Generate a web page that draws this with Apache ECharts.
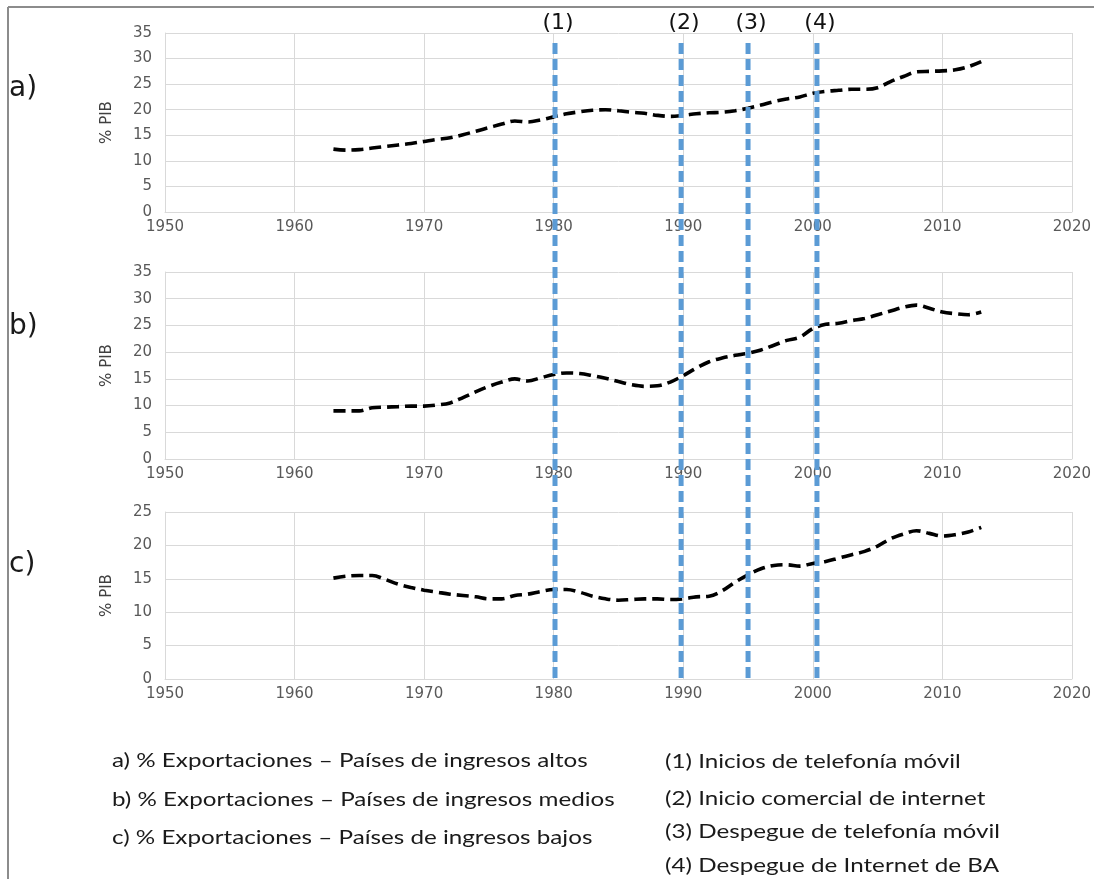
<!DOCTYPE html>
<html>
<head>
<meta charset="utf-8">
<title>% Exportaciones / % PIB</title>
<script src="https://cdn.jsdelivr.net/npm/echarts@6/dist/echarts.min.js"></script>
<style>
  html, body { margin: 0; padding: 0; background: #ffffff; }
  #chart { width: 1094px; height: 879px; }
</style>
</head>
<body>
<div id="chart"></div>
<script>
// Years covered by the three export series
const years = [1963, 1964, 1965, 1966, 1967, 1968, 1969, 1970, 1971, 1972,
  1973, 1974, 1975, 1976, 1977, 1978, 1979, 1980, 1981, 1982,
  1983, 1984, 1985, 1986, 1987, 1988, 1989, 1990, 1991, 1992,
  1993, 1994, 1995, 1996, 1997, 1998, 1999, 2000, 2001, 2002,
  2003, 2004, 2005, 2006, 2007, 2008, 2009, 2010, 2011, 2012, 2013];

// a) Exports, % of GDP – high-income countries
const exportsHigh = [12.3, 12.1, 12.2, 12.5, 12.8, 13.1, 13.4, 13.8, 14.2, 14.5,
  15.1, 15.8, 16.5, 17.2, 17.8, 17.6, 18.0, 18.6, 19.2, 19.6,
  19.9, 20.0, 19.8, 19.5, 19.3, 18.9, 18.7, 18.9, 19.2, 19.4,
  19.5, 19.8, 20.3, 20.9, 21.6, 22.1, 22.5, 23.2, 23.6, 23.8,
  24.0, 24.0, 24.3, 25.5, 26.5, 27.4, 27.5, 27.6, 27.8, 28.4, 29.4];

// b) Exports, % of GDP – middle-income countries
const exportsMiddle = [9.0, 9.0, 9.0, 9.6, 9.7, 9.8, 9.9, 9.9, 10.1, 10.5,
  11.5, 12.6, 13.6, 14.4, 15.0, 14.6, 15.2, 15.8, 16.1, 16.0,
  15.6, 15.1, 14.5, 13.9, 13.6, 13.7, 14.4, 15.6, 17.0, 18.2,
  18.9, 19.4, 19.8, 20.4, 21.3, 22.2, 22.8, 24.4, 25.2, 25.4,
  25.9, 26.3, 27.0, 27.7, 28.4, 28.8, 28.2, 27.5, 27.2, 27.0, 27.5];

// c) Exports, % of GDP – low-income countries
const exportsLow = [15.1, 15.4, 15.5, 15.5, 14.9, 14.2, 13.7, 13.3, 13.0, 12.7,
  12.5, 12.3, 12.0, 12.0, 12.5, 12.7, 13.1, 13.4, 13.4, 13.0,
  12.4, 12.0, 11.8, 11.9, 12.0, 12.0, 11.9, 12.0, 12.3, 12.4,
  13.2, 14.5, 15.6, 16.5, 17.0, 17.1, 16.9, 17.3, 17.6, 18.1,
  18.6, 19.1, 19.9, 21.0, 21.7, 22.2, 21.8, 21.4, 21.6, 22.0, 22.7];

// Technology milestones marked across all panels
const milestoneYears = [1980, 1989.7, 1994.85, 2000.15];
const milestoneLabels = ['(1)', '(2)', '(3)', '(4)'];

const panelLabels = ['a)', 'b)', 'c)'];
const panelMax = [35, 35, 25];
const axisName = '% PIB';

const legendLeft = [
  'a) % Exportaciones – Países de ingresos altos',
  'b) % Exportaciones – Países de ingresos medios',
  'c) % Exportaciones – Países de ingresos bajos'
];
const legendRight = [
  '(1) Inicios de telefonía móvil',
  '(2) Inicio comercial de internet',
  '(3) Despegue de telefonía móvil',
  '(4) Despegue de Internet de BA'
];

const seriesData = [exportsHigh, exportsMiddle, exportsLow];

// ---- layout ----
const plotLeft = 165, plotRight = 19;
const panelBoxes = [
  { top: 33, height: 179 },
  { top: 272, height: 187 },
  { top: 512, height: 167 }
];
const overlayBox = { top: 43, height: 635 };
const panelLabelY = [92, 330, 568];
const legendLeftY = [761, 800, 838];
const legendRightY = [762, 799, 832, 866];
const legendScaleX = 1.21;

const tickFont = { color: '#595959', fontSize: 15, fontFamily: 'DejaVu Sans' };
const gridColor = '#d9d9d9';

const grid = panelBoxes.map(b => ({ left: plotLeft, right: plotRight, top: b.top, height: b.height }))
  .concat([{ left: plotLeft, right: plotRight, top: overlayBox.top, height: overlayBox.height }]);

const xAxis = panelBoxes.map((b, i) => ({
  type: 'value', gridIndex: i, min: 1950, max: 2020, interval: 10,
  axisLine: { show: true, lineStyle: { color: gridColor, width: 1 } },
  axisTick: { show: false },
  axisLabel: Object.assign({ margin: 8, formatter: v => String(v) }, tickFont),
  splitLine: { show: true, lineStyle: { color: gridColor, width: 1 } }
})).concat([{ type: 'value', gridIndex: 3, min: 1950, max: 2020, show: false }]);

const yAxis = panelBoxes.map((b, i) => ({
  type: 'value', gridIndex: i, min: 0, max: panelMax[i], interval: 5,
  name: axisName, nameLocation: 'middle', nameGap: 50, nameRotate: 90,
  nameTextStyle: { color: '#404040', fontSize: 15, fontFamily: 'DejaVu Sans' },
  axisLine: { show: true, lineStyle: { color: gridColor, width: 1 } },
  axisTick: { show: false },
  axisLabel: Object.assign({ margin: 13 }, tickFont),
  splitLine: { show: true, lineStyle: { color: gridColor, width: 1 } }
})).concat([{ type: 'value', gridIndex: 3, min: 0, max: 1, show: false }]);

const series = seriesData.map((arr, i) => ({
  type: 'line', xAxisIndex: i, yAxisIndex: i,
  data: years.map((y, k) => [y, arr[k]]),
  smooth: 0.35, symbol: 'none', z: 3,
  lineStyle: { color: '#000000', width: 3.6, type: [12, 6] }
}));

milestoneYears.forEach((yr, i) => {
  series.push({
    type: 'line', xAxisIndex: 3, yAxisIndex: 3, z: 5,
    symbol: 'circle', symbolSize: 1,
    itemStyle: { color: 'rgba(0,0,0,0)' },
    lineStyle: { color: '#5b9bd5', width: 5, type: [11, 5] },
    data: [
      [yr, 0],
      { value: [yr, 1], label: {
          show: true, formatter: milestoneLabels[i], position: 'top', distance: 8,
          offset: [3, 0], color: '#111111', fontSize: 22, fontFamily: 'DejaVu Sans'
        } }
    ]
  });
});

const graphic = [
  // figure border (top and left edges)
  { type: 'line', shape: { x1: 8, y1: 7, x2: 1094, y2: 7 }, style: { stroke: '#8c8c8c', lineWidth: 2 } },
  { type: 'line', shape: { x1: 8, y1: 7, x2: 8, y2: 879 }, style: { stroke: '#8c8c8c', lineWidth: 2 } }
];
panelLabels.forEach((t, i) => {
  graphic.push({ type: 'text', left: 9, top: panelLabelY[i] - 17,
    style: { text: t, fontSize: 28, fontFamily: 'DejaVu Sans', fill: '#1a1a1a' } });
});
const legendText = (t, x, y) => ({
  type: 'text', x: x, y: y, scaleX: legendScaleX,
  style: { text: t, fontSize: 20, fontFamily: 'Lato', fill: '#1a1a1a', verticalAlign: 'middle', align: 'left' }
});
legendLeft.forEach((t, i) => graphic.push(legendText(t, 112, legendLeftY[i])));
legendRight.forEach((t, i) => graphic.push(legendText(t, 665, legendRightY[i])));

const chart = echarts.init(document.getElementById('chart'), null, { renderer: 'canvas' });
chart.setOption({
  animation: false,
  backgroundColor: '#ffffff',
  grid, xAxis, yAxis, series, graphic
});
</script>
</body>
</html>
